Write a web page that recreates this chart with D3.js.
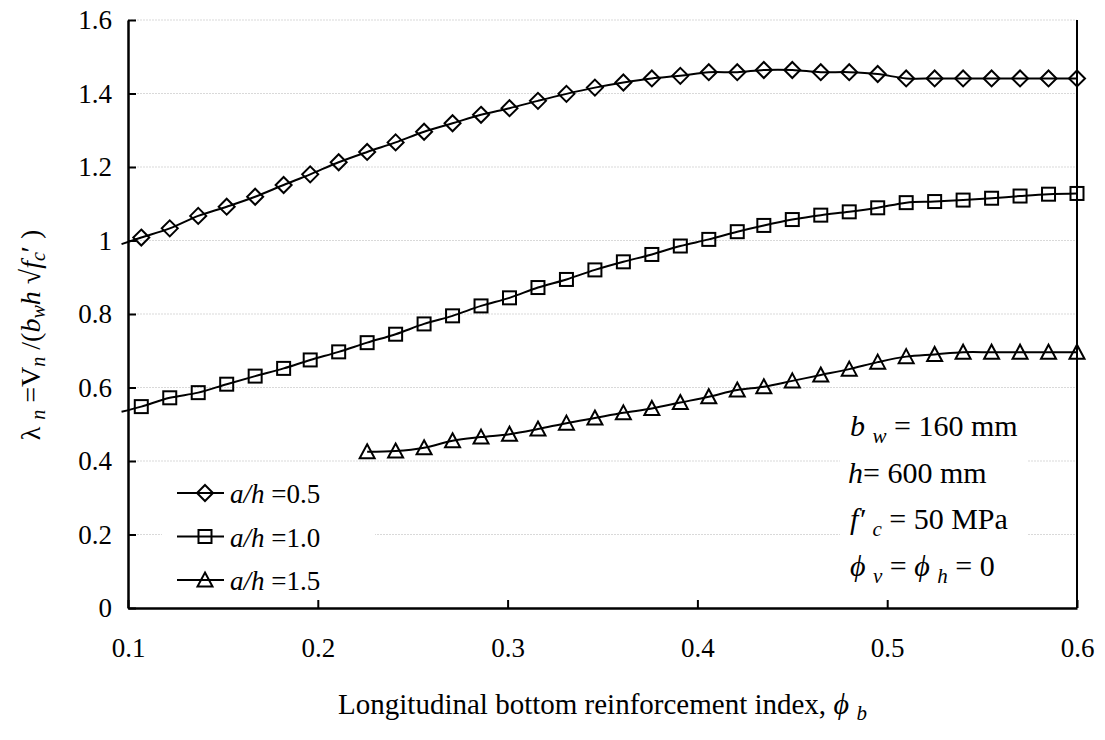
<!DOCTYPE html>
<html>
<head>
<meta charset="utf-8">
<script src="https://cdn.jsdelivr.net/npm/d3@7"></script>
<style>
  body { margin: 0; background: #fff; }
  text { font-family: "Liberation Serif", "Times New Roman", serif; fill: #000; }
</style>
</head>
<body>
<div id="chart"></div>
<script>
// reinforcement index values (x) shared by all three series
var phiB = [0.107, 0.122, 0.137, 0.152, 0.167, 0.182, 0.196, 0.211, 0.226, 0.241,
            0.256, 0.271, 0.286, 0.301, 0.316, 0.331, 0.346, 0.361, 0.376, 0.391,
            0.406, 0.421, 0.435, 0.450, 0.465, 0.480, 0.495, 0.510, 0.525, 0.540,
            0.555, 0.570, 0.585, 0.600];

// a/h = 0.5
var lam05 = [1.008, 1.033, 1.067, 1.092, 1.119, 1.151, 1.180, 1.213, 1.241, 1.267,
             1.296, 1.319, 1.342, 1.360, 1.380, 1.399, 1.416, 1.430, 1.441, 1.448,
             1.458, 1.458, 1.464, 1.464, 1.458, 1.458, 1.453, 1.441, 1.441, 1.441,
             1.441, 1.441, 1.441, 1.441];
// a/h = 1.0
var lam10 = [0.548, 0.572, 0.586, 0.609, 0.631, 0.652, 0.675, 0.697, 0.722, 0.745,
             0.773, 0.795, 0.822, 0.844, 0.872, 0.894, 0.920, 0.942, 0.962, 0.985,
             1.003, 1.024, 1.041, 1.057, 1.069, 1.078, 1.089, 1.103, 1.106, 1.110,
             1.115, 1.121, 1.126, 1.128];
// a/h = 1.5 (starts at the 9th x value)
var lam15 = [0.425, 0.427, 0.436, 0.455, 0.465, 0.473, 0.487, 0.503, 0.517, 0.531,
             0.543, 0.559, 0.575, 0.593, 0.602, 0.618, 0.634, 0.650, 0.669, 0.684,
             0.690, 0.696, 0.696, 0.696, 0.696, 0.696];
var start15 = 8;

// where the curves begin left of the first marker
var leadX = 0.0966;
var lead05 = 0.990;
var lead10 = 0.534;

var xTicks = [0.1, 0.2, 0.3, 0.4, 0.5, 0.6];
var yTicks = [0, 0.2, 0.4, 0.6, 0.8, 1, 1.2, 1.4, 1.6];
var legendLabels = ["0.5", "1.0", "1.5"];

var serif = "'Liberation Serif', 'Times New Roman', serif";

var margin = {top: 20, right: 28, bottom: 132, left: 128},
    width = 1105 - margin.left - margin.right,
    height = 740 - margin.top - margin.bottom;

var svg = d3.select("#chart").append("svg")
    .attr("width", 1105).attr("height", 740)
  .append("g")
    .attr("transform", "translate(" + margin.left + "," + margin.top + ")");

var x = d3.scaleLinear().domain([0.1, 0.6]).range([0, width]);
var y = d3.scaleLinear().domain([0, 1.6]).range([height, 0]);

// gridlines
svg.append("g").selectAll("line").data(yTicks.slice(1)).join("line")
    .attr("x1", 0).attr("x2", width)
    .attr("y1", function(d) { return y(d); }).attr("y2", function(d) { return y(d); })
    .attr("stroke", "#d9d9d9").attr("stroke-width", 1).attr("stroke-dasharray", "2,1");

// build series
var s05 = phiB.map(function(v, i) { return [v, lam05[i]]; });
var s10 = phiB.map(function(v, i) { return [v, lam10[i]]; });
var s15 = lam15.map(function(v, i) { return [phiB[start15 + i], v]; });

var line = d3.line()
    .x(function(d) { return x(d[0]); })
    .y(function(d) { return y(d[1]); })
    .curve(d3.curveCatmullRom.alpha(0.5));

[[[leadX, lead05]].concat(s05), [[leadX, lead10]].concat(s10), s15].forEach(function(pts) {
  svg.append("path").datum(pts)
    .attr("fill", "none").attr("stroke", "#000").attr("stroke-width", 2)
    .attr("d", line);
});

function marker(g, kind) {
  if (kind == 0) {
    g.append("path").attr("d", "M0,-8L8,0L0,8L-8,0Z");
  } else if (kind == 1) {
    g.append("rect").attr("x", -6.5).attr("y", -6.5).attr("width", 13).attr("height", 13);
  } else {
    g.append("path").attr("d", "M0,-7.5L7.5,6.5L-7.5,6.5Z");
  }
  g.selectAll("*").attr("fill", "none").attr("stroke", "#000").attr("stroke-width", 2);
}

[s05, s10, s15].forEach(function(pts, k) {
  svg.append("g").selectAll("g").data(pts).join("g")
    .attr("transform", function(d) { return "translate(" + x(d[0]) + "," + y(d[1]) + ")"; })
    .each(function() { marker(d3.select(this), k); });
});

// legend box
var leg = svg.append("g").attr("transform", "translate(" + (x(0.1) + 34) + "," + (y(0.4) + 12) + ")");
leg.append("rect").attr("width", 213).attr("height", 128).attr("fill", "#fff");
legendLabels.forEach(function(lab, i) {
  var row = leg.append("g").attr("transform", "translate(0," + (20 + i * 43.5) + ")");
  row.append("line").attr("x1", 15).attr("x2", 62).attr("stroke", "#000").attr("stroke-width", 2);
  var m = row.append("g").attr("transform", "translate(43,0)");
  marker(m, i);
  var t = row.append("text").attr("x", 68).attr("y", 10).style("font-size", "27px");
  t.append("tspan").style("font-style", "italic").text("a/h");
  t.append("tspan").text(" =" + lab);
});

// parameter box
var info = svg.append("g").attr("transform", "translate(" + (x(0.6) - 227) + "," + (y(0.4) - 50) + ")");
info.append("rect").attr("x", -10).attr("width", 187).attr("height", 180).attr("fill", "#fff");
function sub(t, s) {
  t.append("tspan").attr("dy", 7).style("font-size", "21px").style("font-style", "italic").text(s);
  t.append("tspan").attr("dy", -7).text("\u00a0");
}
var t1 = info.append("text").attr("x", 0).attr("y", 25).style("font-size", "30px");
t1.append("tspan").style("font-style", "italic").text("b");
t1.append("tspan").text(" ");
sub(t1, "w");
t1.append("tspan").text("= 160 mm");
var t2 = info.append("text").attr("x", -2).attr("y", 72).style("font-size", "30px");
t2.append("tspan").style("font-style", "italic").text("h");
t2.append("tspan").text("= 600 mm");
var t3 = info.append("text").attr("x", 0).attr("y", 118).style("font-size", "30px");
t3.append("tspan").style("font-style", "italic").text("f\u2032 ");
sub(t3, "c");
t3.append("tspan").text("= 50 MPa");
var t4 = info.append("text").attr("x", 0).attr("y", 165).style("font-size", "30px");
t4.append("tspan").style("font-style", "italic").text("\u03d5 ");
sub(t4, "v");
t4.append("tspan").text("= ");
t4.append("tspan").style("font-style", "italic").text("\u03d5 ");
sub(t4, "h");
t4.append("tspan").text("= 0");

// axes
var xAxis = svg.append("g").attr("transform", "translate(0," + height + ")")
  .call(d3.axisBottom(x).tickValues(xTicks).tickSizeInner(-8).tickSizeOuter(0).tickPadding(30)
        .tickFormat(d3.format(".1f")));
var yAxis = svg.append("g")
  .call(d3.axisLeft(y).tickValues(yTicks).tickSizeInner(-8).tickSizeOuter(0).tickPadding(16)
        .tickFormat(function(d) { return d == 0 || d == 1 ? d : d3.format(".1f")(d); }));
[xAxis, yAxis].forEach(function(a) {
  a.attr("font-family", serif).attr("font-size", 27);
  a.select(".domain").attr("stroke", "#000").attr("stroke-width", 2.5);
  a.selectAll(".tick line").attr("stroke", "#000").attr("stroke-width", 2);
});
svg.append("line").attr("x1", width).attr("x2", width).attr("y1", 0).attr("y2", height)
  .attr("stroke", "#000").attr("stroke-width", 2);

// axis titles
var xt = svg.append("text").attr("x", width / 2).attr("y", height + 106)
  .attr("text-anchor", "middle").style("font-size", "29px");
xt.append("tspan").text("Longitudinal bottom reinforcement index, ");
xt.append("tspan").style("font-style", "italic").style("font-size", "30px").text("\u03d5 ");
xt.append("tspan").attr("dy", 6).style("font-style", "italic").style("font-size", "21px").text("b");

var yt = svg.append("text").attr("transform", "translate(-88," + (height / 2 + 21) + ") rotate(-90)")
  .attr("text-anchor", "middle").style("font-size", "28px");
yt.append("tspan").text("\u03bb ");
yt.append("tspan").attr("dy", 5).style("font-style", "italic").style("font-size", "20px").text("n");
yt.append("tspan").attr("dy", -5).text(" =V");
yt.append("tspan").attr("dy", 5).style("font-style", "italic").style("font-size", "20px").text("n");
yt.append("tspan").attr("dy", -5).text(" /(");
yt.append("tspan").style("font-style", "italic").text("b");
yt.append("tspan").attr("dy", 5).style("font-style", "italic").style("font-size", "20px").text("w");
yt.append("tspan").attr("dy", -5).style("font-style", "italic").text("h");
yt.append("tspan").text(" \u221a");
yt.append("tspan").style("font-style", "italic").text("f");
yt.append("tspan").attr("dy", 5).style("font-style", "italic").style("font-size", "20px").text("c");
yt.append("tspan").attr("dy", -5).text("\u2032 )");
</script>
</body>
</html>
